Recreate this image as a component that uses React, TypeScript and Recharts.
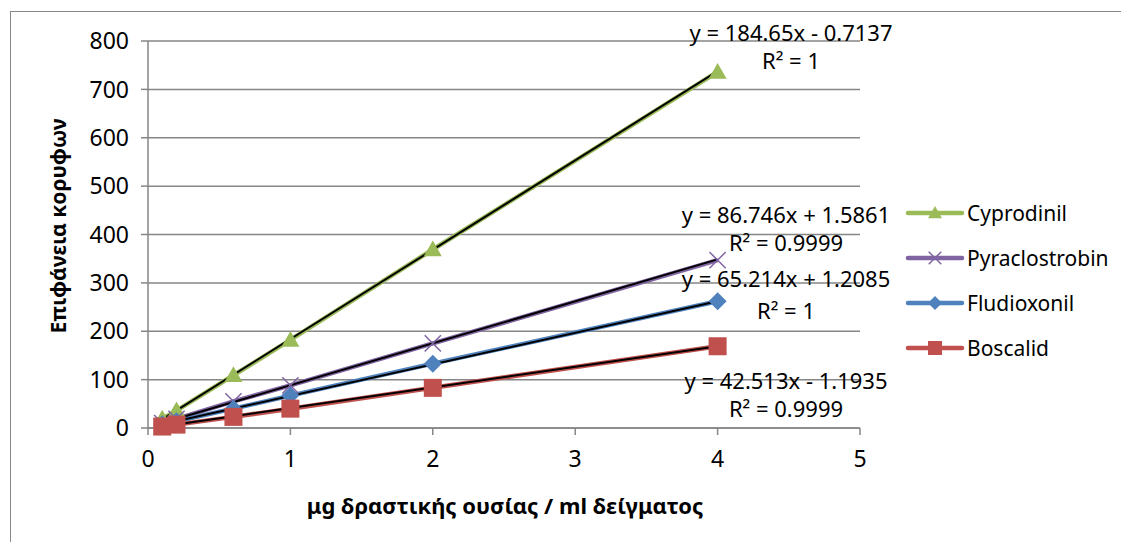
import React from "react"
import { LineChart, Line, XAxis, YAxis, CartesianGrid } from "recharts"

const concentrations = [0.1, 0.2, 0.6, 1, 2, 4]

const cyprodinil = [19, 36, 109, 182, 369, 736]
const pyraclostrobin = [10, 19, 55, 88, 175, 347]
const fludioxonil = [8, 14, 40, 67, 133, 262]
const boscalid = [3, 7, 23, 40, 83, 169]

const seriesNames = ["Cyprodinil", "Pyraclostrobin", "Fludioxonil", "Boscalid"]
const slopes = [184.65, 86.746, 65.214, 42.513]
const intercepts = [-0.7137, 1.5861, 1.2085, -1.1935]
const equations = [
  "y = 184.65x - 0.7137",
  "y = 86.746x + 1.5861",
  "y = 65.214x + 1.2085",
  "y = 42.513x - 1.1935",
]
const rSquared = ["R² = 1", "R² = 0.9999", "R² = 1", "R² = 0.9999"]

const yTicks = [0, 100, 200, 300, 400, 500, 600, 700, 800]
const xTicks = [0, 1, 2, 3, 4, 5]

const xTitle = "μg δραστικής ουσίας / ml δείγματος"
const yTitle = "Επιφάνεια κορυφων"

const FONT = "'Noto Sans', 'Open Sans', sans-serif"
const colors = ["#9BBB59", "#8064A2", "#4F81BD", "#C0504D"]
const markerTypes = ["triangle", "cross", "diamond", "square"]

const toPoints = (vals: number[]) => concentrations.map((x, i) => ({ x, y: vals[i] }))
const allValues = [cyprodinil, pyraclostrobin, fludioxonil, boscalid]

// trendline ends from the equations shown on the chart
const trendData = slopes.map((m, i) => {
  const x0 = concentrations[0]
  const x1 = concentrations[concentrations.length - 1]
  return [
    { x: x0, y: m * x0 + intercepts[i] },
    { x: x1, y: m * x1 + intercepts[i] },
  ]
})

function Marker({ type, cx, cy, color, size = 9 }: any) {
  if (cx == null || cy == null) return null
  if (type === "triangle") {
    return (
      <polygon
        points={`${cx},${cy - size} ${cx - size},${cy + size * 0.75} ${cx + size},${cy + size * 0.75}`}
        fill={color}
      />
    )
  }
  if (type === "diamond") {
    return (
      <polygon
        points={`${cx},${cy - size} ${cx + size},${cy} ${cx},${cy + size} ${cx - size},${cy}`}
        fill={color}
      />
    )
  }
  if (type === "square") {
    return <rect x={cx - size} y={cy - size} width={size * 2} height={size * 2} fill={color} />
  }
  const s = size * 0.9
  return (
    <g stroke={color} strokeWidth={1.5}>
      <line x1={cx - s} y1={cy - s} x2={cx + s} y2={cy + s} />
      <line x1={cx - s} y1={cy + s} x2={cx + s} y2={cy - s} />
    </g>
  )
}

const labelPositions = [
  { x: 791, y: 32, ry: 60 },
  { x: 786, y: 214, ry: 242 },
  { x: 786, y: 278, ry: 310 },
  { x: 786, y: 380, ry: 408 },
]

export default function App() {
  return (
    <div style={{ position: "absolute", left: 0, top: 0, width: 1121, height: 542, background: "#fff" }}>
      <div
        style={{
          position: "absolute",
          left: 10,
          top: 11,
          width: 1111,
          height: 531,
          borderLeft: "1.5px solid #888",
          borderTop: "1.5px solid #888",
          boxSizing: "border-box",
        }}
      />
      <LineChart
        width={1121}
        height={542}
        margin={{ top: 41, right: 261, bottom: 84, left: 88 }}
        style={{ position: "absolute", left: 0, top: 0, fontFamily: FONT }}
      >
        <CartesianGrid vertical={false} stroke="#868686" strokeWidth={1.5} />
        <XAxis
          type="number"
          dataKey="x"
          domain={[0, 5]}
          ticks={xTicks}
          allowDuplicatedCategory={false}
          stroke="#868686"
          strokeWidth={1.5}
          tickSize={7}
          height={30}
          tick={{ fill: "#000", fontSize: 23, dy: 14 }}
        />
        <YAxis
          type="number"
          domain={[0, 800]}
          ticks={yTicks}
          stroke="#868686"
          strokeWidth={1.5}
          tickSize={7}
          width={60}
          tick={{ fill: "#000", fontSize: 23, dx: -10 }}
        />
        {allValues.map((vals, i) => (
          <Line
            key={seriesNames[i]}
            data={toPoints(vals)}
            dataKey="y"
            name={seriesNames[i]}
            stroke={colors[i]}
            strokeWidth={4.5}
            isAnimationActive={false}
            dot={(p: any) => (
              <Marker key={`${i}-${p.index}`} type={markerTypes[i]} cx={p.cx} cy={p.cy} color={colors[i]} />
            )}
            activeDot={false}
          />
        ))}
        {trendData.map((d, i) => (
          <Line
            key={`trend-${i}`}
            data={d}
            dataKey="y"
            stroke="#000"
            strokeWidth={2}
            dot={false}
            activeDot={false}
            isAnimationActive={false}
            legendType="none"
          />
        ))}
      </LineChart>
      <svg
        width={1121}
        height={542}
        style={{ position: "absolute", left: 0, top: 0, pointerEvents: "none", fontFamily: FONT }}
      >
        <text x={505} y={505} fontSize={22} fontWeight={700} textAnchor="middle" dominantBaseline="central">
          {xTitle}
        </text>
        <text
          x={58}
          y={226}
          fontSize={21}
          fontWeight={700}
          textAnchor="middle"
          dominantBaseline="central"
          transform="rotate(-90 58 226)"
        >
          {yTitle}
        </text>
        {labelPositions.map((p, i) => (
          <g key={i} fontSize={22} fill="#000" textAnchor="middle">
            <text x={p.x} y={p.y} dominantBaseline="central">
              {equations[i]}
            </text>
            <text x={p.x} y={p.ry} dominantBaseline="central">
              {rSquared[i]}
            </text>
          </g>
        ))}
        {seriesNames.map((name, i) => {
          const y = 213 + i * 45
          return (
            <g key={name}>
              <line x1={908} y1={y} x2={962} y2={y} stroke={colors[i]} strokeWidth={4.5} strokeLinecap="round" />
              <Marker type={markerTypes[i]} cx={935} cy={y} color={colors[i]} size={7} />
              <text x={967} y={y} fontSize={21} fill="#000" dominantBaseline="central">
                {name}
              </text>
            </g>
          )
        })}
      </svg>
    </div>
  )
}
